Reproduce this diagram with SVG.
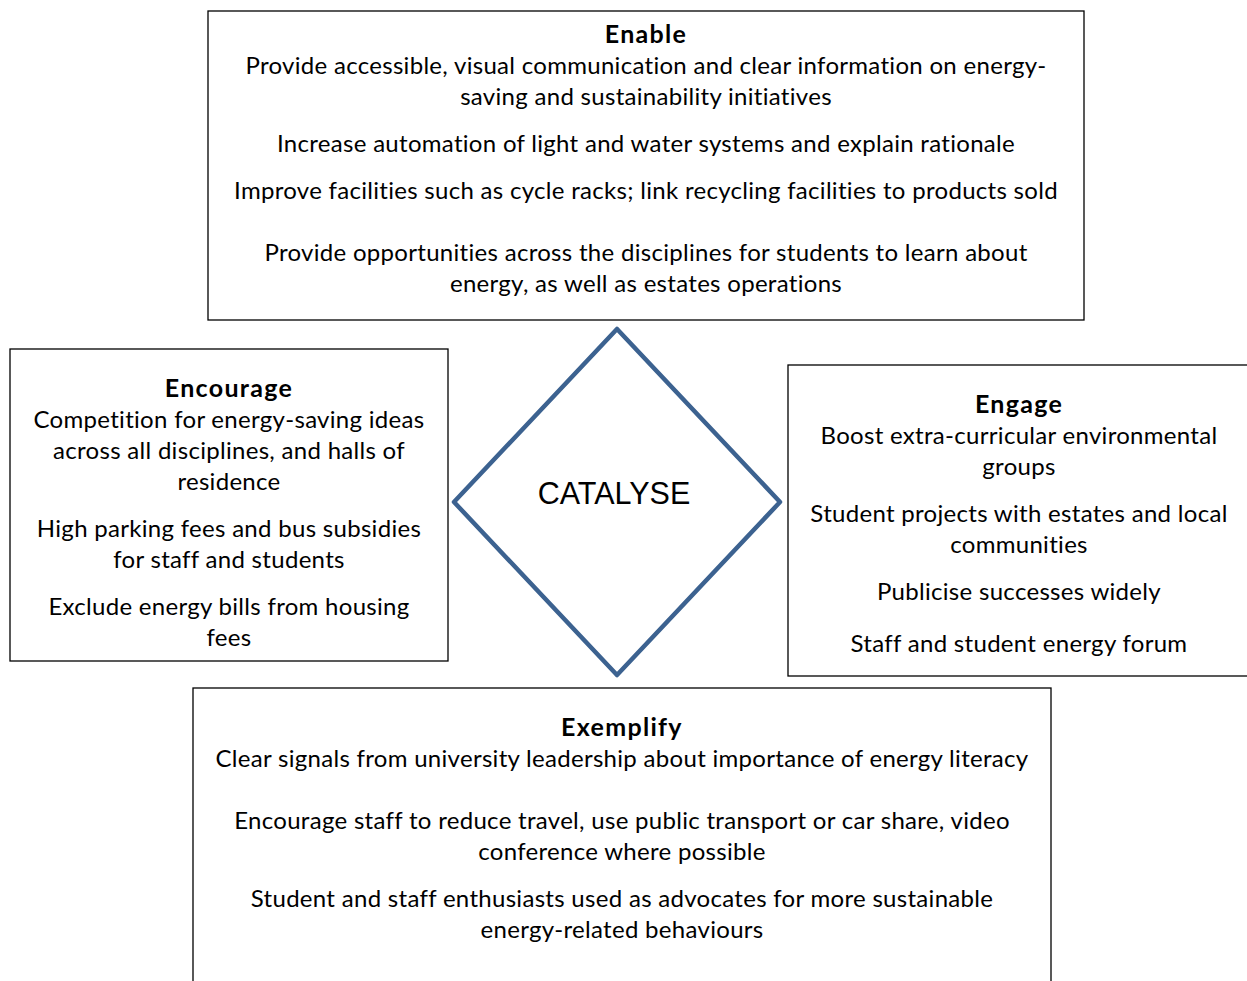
<svg xmlns="http://www.w3.org/2000/svg" width="1247" height="981" viewBox="0 0 1247 981">
<style>
.box{fill:#fff;stroke:#000;stroke-width:1.3}
.t{font-family:Lato,"Open Sans","DejaVu Sans",sans-serif;font-size:24px;letter-spacing:0.3px;fill:#000;text-anchor:middle}
.h{font-weight:bold;font-size:25px;letter-spacing:1.3px}
.cat{font-family:"Liberation Sans",Arial,sans-serif;font-size:30.5px;fill:#000;text-anchor:middle}
</style>
<rect width="1247" height="981" fill="#fff"/>
<g id="enable">
<rect class="box" x="208" y="11" width="876" height="309"/>
<text class="t h" x="646" y="43">Enable</text>
<text class="t" x="646" y="74">Provide accessible, visual communication and clear information on energy-</text>
<text class="t" x="646" y="105">saving and sustainability initiatives</text>
<text class="t" x="646" y="152">Increase automation of light and water systems and explain rationale</text>
<text class="t" x="646" y="199">Improve facilities such as cycle racks; link recycling facilities to products sold</text>
<text class="t" x="646" y="261">Provide opportunities across the disciplines for students to learn about</text>
<text class="t" x="646" y="292">energy, as well as estates operations</text>
</g>
<g id="encourage">
<rect class="box" x="10" y="349" width="438" height="312"/>
<text class="t h" x="229" y="397">Encourage</text>
<text class="t" x="229" y="428">Competition for energy-saving ideas</text>
<text class="t" x="229" y="459">across all disciplines, and halls of</text>
<text class="t" x="229" y="490">residence</text>
<text class="t" x="229" y="537">High parking fees and bus subsidies</text>
<text class="t" x="229" y="568">for staff and students</text>
<text class="t" x="229" y="615">Exclude energy bills from housing</text>
<text class="t" x="229" y="646">fees</text>
</g>
<g id="engage">
<rect class="box" x="788" y="365" width="470" height="311"/>
<text class="t h" x="1019" y="413">Engage</text>
<text class="t" x="1019" y="444">Boost extra-curricular environmental</text>
<text class="t" x="1019" y="475">groups</text>
<text class="t" x="1019" y="522">Student projects with estates and local</text>
<text class="t" x="1019" y="553">communities</text>
<text class="t" x="1019" y="600">Publicise successes widely</text>
<text class="t" x="1019" y="652">Staff and student energy forum</text>
</g>
<g id="exemplify">
<rect class="box" x="193" y="688" width="858" height="310"/>
<text class="t h" x="622" y="736">Exemplify</text>
<text class="t" x="622" y="767">Clear signals from university leadership about importance of energy literacy</text>
<text class="t" x="622" y="829">Encourage staff to reduce travel, use public transport or car share, video</text>
<text class="t" x="622" y="860">conference where possible</text>
<text class="t" x="622" y="907">Student and staff enthusiasts used as advocates for more sustainable</text>
<text class="t" x="622" y="938">energy-related behaviours</text>
</g>
<g id="catalyse">
<polygon points="617,329 780,502 617,675 454,502" fill="#fff" stroke="#3c6290" stroke-width="4.5" stroke-linejoin="round"/>
<text class="cat" x="614" y="504">CATALYSE</text>
</g>
<g id="connectors"></g>
</svg>
